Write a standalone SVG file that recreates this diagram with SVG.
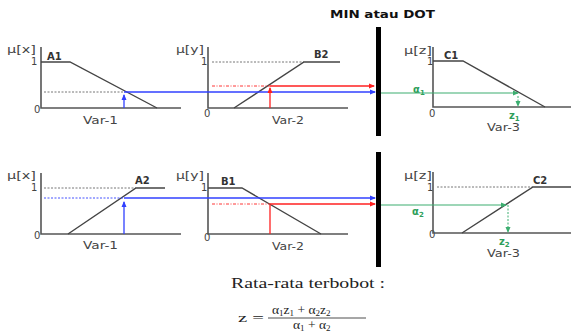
<svg xmlns="http://www.w3.org/2000/svg" width="571" height="333" viewBox="0 0 571 333">
<defs>
<style>
.ax{stroke:#555;stroke-width:1.6;fill:none}
.mf{stroke:#444;stroke-width:1.4;fill:none}
.dot{stroke:#666;stroke-width:0.9;stroke-dasharray:2,1.5;fill:none}
.t{font-family:"DejaVu Sans",Verdana,sans-serif;font-size:10px;fill:#444}
.lb{font-family:"DejaVu Sans",Verdana,sans-serif;font-size:10px;font-weight:bold;fill:#333}
.bl{stroke:#3040ff;stroke-width:1.3;fill:none}
.bld{stroke:#3040ff;stroke-width:0.9;stroke-dasharray:2,1.5;fill:none}
.rd{stroke:#ff2020;stroke-width:1.3;fill:none}
.rdd{stroke:#ff2020;stroke-width:0.9;stroke-dasharray:3,1.5,1,1.5;fill:none}
.gr{stroke:#3cae70;stroke-width:1.2;fill:none}
.grd{stroke:#3cae70;stroke-width:1;stroke-dasharray:2,1.5;fill:none}
.gt{font-family:"DejaVu Sans",Verdana,sans-serif;font-size:10px;font-weight:bold;fill:#2e9e5a}
.bar{stroke:#000;stroke-width:5}
.f{font-family:"Liberation Serif","Times New Roman",serif;fill:#222}
</style>
<marker id="ab" viewBox="0 0 6 6" refX="5" refY="3" markerWidth="6" markerHeight="6" orient="auto" markerUnits="userSpaceOnUse"><path d="M0,0.5 L6,3 L0,5.5z" fill="#3040ff"/></marker>
<marker id="ar" viewBox="0 0 6 6" refX="5" refY="3" markerWidth="6" markerHeight="6" orient="auto" markerUnits="userSpaceOnUse"><path d="M0,0.5 L6,3 L0,5.5z" fill="#ff2020"/></marker>
<marker id="ag" viewBox="0 0 6 6" refX="5" refY="3" markerWidth="6" markerHeight="6" orient="auto" markerUnits="userSpaceOnUse"><path d="M0,0.5 L6,3 L0,5.5z" fill="#3cae70"/></marker>
</defs>

<text x="330" y="18" class="lb" style="font-size:10.5px;fill:#111" textLength="105" lengthAdjust="spacingAndGlyphs">MIN atau DOT</text>

<g id="A1">
<text x="7" y="53" class="t" textLength="29" lengthAdjust="spacingAndGlyphs">μ[x]</text>
<text x="31" y="65" class="t">1</text>
<text x="34" y="113" class="t">0</text>
<path class="ax" d="M41,47 V108 H181"/>
<path class="mf" d="M41,62 H70 L157,108"/>
<text x="47" y="60" class="lb">A1</text>
<path class="dot" d="M44,92 H124"/>
<text x="83" y="124" class="t" textLength="35" lengthAdjust="spacingAndGlyphs">Var-1</text>
</g>

<g id="B2">
<text x="176" y="53" class="t" textLength="28" lengthAdjust="spacingAndGlyphs">μ[y]</text>
<text x="201" y="65" class="t">1</text>
<text x="204" y="117" class="t">0</text>
<path class="ax" d="M208,47 V108 H348"/>
<path class="dot" d="M212,62 H304"/>
<path class="mf" d="M234,108 L304,62 H340"/>
<text x="314" y="58" class="lb">B2</text>
<text x="272" y="124" class="t" textLength="32" lengthAdjust="spacingAndGlyphs">Var-2</text>
</g>

<g id="C1">
<text x="404" y="54" class="t" textLength="28" lengthAdjust="spacingAndGlyphs">μ[z]</text>
<text x="427" y="65" class="t">1</text>
<text x="429" y="117" class="t">0</text>
<path class="ax" d="M433,47 V107 H571"/>
<path class="mf" d="M433,61 H463 L545,107"/>
<text x="444" y="59" class="lb">C1</text>
<text x="413" y="93" class="gt">α<tspan font-size="7" dy="2">1</tspan></text>
<text x="509" y="119" class="gt">z<tspan font-size="7" dy="2">1</tspan></text>
<text x="487" y="131" class="t" textLength="33" lengthAdjust="spacingAndGlyphs">Var-3</text>
</g>

<g id="A2">
<text x="7" y="179" class="t" textLength="29" lengthAdjust="spacingAndGlyphs">μ[x]</text>
<text x="31" y="191" class="t">1</text>
<text x="34" y="239" class="t">0</text>
<path class="ax" d="M41,173 V234 H181"/>
<path class="dot" d="M44,188 H136"/>
<path class="mf" d="M68,234 L136,188 H165"/>
<text x="135" y="184" class="lb">A2</text>
<path class="bld" d="M44,198 H124"/>
<text x="83" y="249" class="t" textLength="35" lengthAdjust="spacingAndGlyphs">Var-1</text>
</g>

<g id="B1">
<text x="176" y="179" class="t" textLength="28" lengthAdjust="spacingAndGlyphs">μ[y]</text>
<text x="201" y="191" class="t">1</text>
<text x="204" y="241" class="t">0</text>
<path class="ax" d="M208,173 V234 H348"/>
<path class="mf" d="M208,188 H242 L321,234"/>
<text x="221" y="185" class="lb">B1</text>
<path class="rdd" d="M212,204 H270"/>
<text x="272" y="250" class="t" textLength="32" lengthAdjust="spacingAndGlyphs">Var-2</text>
</g>

<g id="C2">
<text x="404" y="179" class="t" textLength="28" lengthAdjust="spacingAndGlyphs">μ[z]</text>
<text x="427" y="191" class="t">1</text>
<text x="429" y="238" class="t">0</text>
<path class="ax" d="M433,172 V233 H571"/>
<path class="dot" d="M437,187 H533"/>
<path class="mf" d="M462,233 L533,187 H571"/>
<text x="533" y="184" class="lb">C2</text>
<text x="412" y="215" class="gt">α<tspan font-size="7" dy="2">2</tspan></text>
<text x="499" y="245" class="gt">z<tspan font-size="7" dy="2">2</tspan></text>
<text x="487" y="257" class="t" textLength="33" lengthAdjust="spacingAndGlyphs">Var-3</text>
</g>

<g id="connectors">
<line class="bar" x1="378.5" y1="27" x2="378.5" y2="136"/>
<line class="bar" x1="378.5" y1="152" x2="378.5" y2="267"/>
<path class="bl" d="M124,108 V95" marker-end="url(#ab)"/>
<path class="bl" d="M124,92 H375" marker-end="url(#ab)"/>
<path class="rdd" d="M212,86 H270"/>
<path class="rd" d="M270,108 V88" marker-end="url(#ar)"/>
<path class="rd" d="M270,86 H374" marker-end="url(#ar)"/>
<path class="gr" d="M381,93 H518" marker-end="url(#ag)"/>
<path class="grd" d="M518,96 V106" marker-end="url(#ag)"/>
<path class="bl" d="M124,234 V202" marker-end="url(#ab)"/>
<path class="bl" d="M124,198 H375" marker-end="url(#ab)"/>
<path class="rd" d="M270,234 V205"/>
<path class="rd" d="M270,204 H375" marker-end="url(#ar)"/>
<path class="gr" d="M381,205 H506" marker-end="url(#ag)"/>
<path class="grd" d="M508,205 V232" marker-end="url(#ag)"/>
</g>

<text x="231" y="288" class="f" font-size="14.5" textLength="154" lengthAdjust="spacingAndGlyphs">Rata-rata terbobot :</text>
<text x="238" y="322" class="f" font-size="13" textLength="26" lengthAdjust="spacingAndGlyphs">z =</text>
<text x="272" y="314" class="f" font-size="13.5">α<tspan font-size="9" dy="2">1</tspan><tspan dy="-2">z</tspan><tspan font-size="9" dy="2">1</tspan><tspan dy="-2"> + α</tspan><tspan font-size="9" dy="2">2</tspan><tspan dy="-2">z</tspan><tspan font-size="9" dy="2">2</tspan></text>
<line x1="268" y1="318" x2="366" y2="318" stroke="#222" stroke-width="0.8"/>
<text x="293" y="329" class="f" font-size="13.5">α<tspan font-size="9" dy="2">1</tspan><tspan dy="-2"> + α</tspan><tspan font-size="9" dy="2">2</tspan></text>
</svg>
